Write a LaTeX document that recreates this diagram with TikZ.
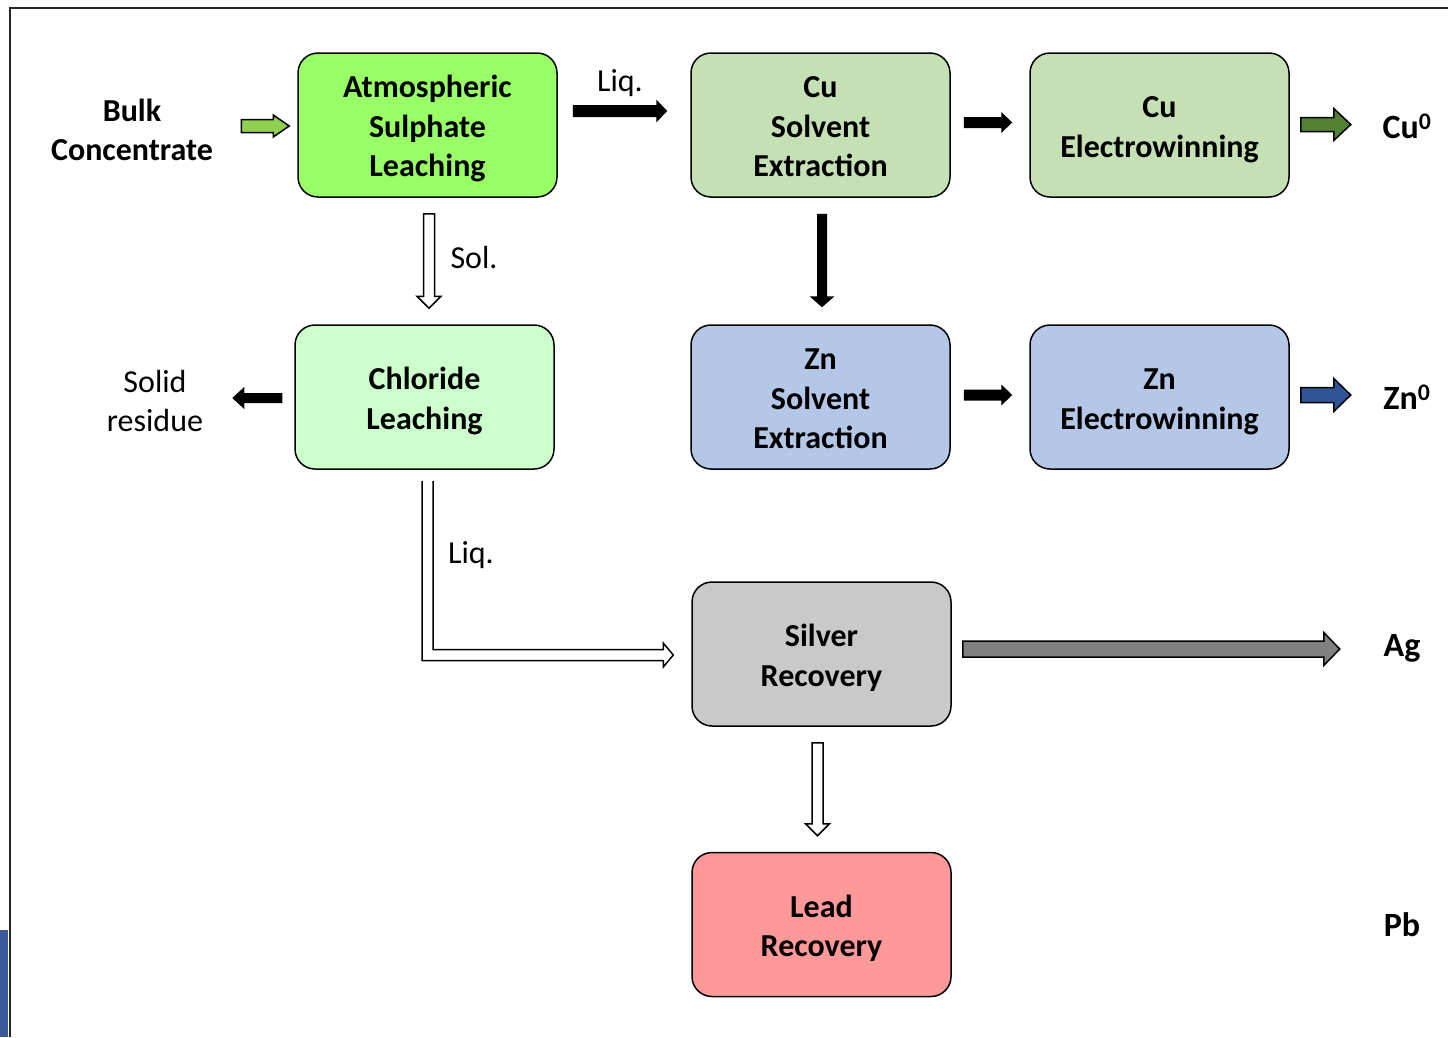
\documentclass[tikz,border=0pt]{standalone}
\usepackage{fontspec}
\setmainfont{Carlito}
\usetikzlibrary{calc}
\definecolor{aslgreen}{RGB}{153,255,102}
\definecolor{sxgreen}{RGB}{197,224,180}
\definecolor{clgreen}{RGB}{204,255,204}
\definecolor{znblue}{RGB}{180,199,231}
\definecolor{aggray}{RGB}{201,201,201}
\definecolor{pbred}{RGB}{255,153,153}
\definecolor{inarrow}{RGB}{146,208,80}
\definecolor{cuarrow}{RGB}{84,130,53}
\definecolor{znarrow}{RGB}{47,85,151}
\definecolor{agarrow}{RGB}{128,128,128}
\definecolor{barblue}{RGB}{59,89,152}
\newcommand\ts{\rule{0pt}{32.5pt}}
\newcommand\bs{\rule[-8pt]{0pt}{0pt}}
\newcommand\blockarrow[6]{%
  \coordinate (baS) at #1;
  \coordinate (baE) at #2;
  \coordinate (baH) at ($(baE)!#5!(baS)$);
  \draw[#6] ($(baS)!#3!90:(baE)$) -- ($(baH)!#3!90:(baE)$) -- ($(baH)!#4!90:(baE)$) -- (baE)
    -- ($(baH)!#4!-90:(baE)$) -- ($(baH)!#3!-90:(baE)$) -- ($(baS)!#3!-90:(baE)$) -- cycle;
}
\tikzset{
  box/.style={draw=black, line width=1.5pt, rounded corners=20pt, minimum width=259pt,
    minimum height=144pt, align=center, inner sep=0pt, font=\bfseries\fontsize{32}{39.5}\selectfont, text=black},
  txt/.style={font=\fontsize{32}{39}\selectfont, align=center, inner sep=0pt},
  btxt/.style={font=\bfseries\fontsize{32}{39}\selectfont, align=center, inner sep=0pt},
  otxt/.style={font=\bfseries\fontsize{34}{40}\selectfont, align=center, inner sep=0pt},
  solidarrow/.style={fill=black, draw=none},
  hollowarrow/.style={draw=black, line width=1.5pt, fill=white, line join=miter},
  colarrow/.style={draw=black, line width=1.5pt, fill=#1, line join=miter}
}
\begin{document}
\begin{tikzpicture}[x=1pt,y=-1pt]
\useasboundingbox (0,0) rectangle (1448,1037);
% frame
\draw[line width=1.5pt, black!85] (10,1037) -- (10,8) -- (1448,8);
\fill[barblue] (0,930) rectangle (8,1037);
% boxes
\node[box, fill=aslgreen] (asl) at (427.5,125) {\ts Atmospheric\\Sulphate\\Leaching\bs};
\node[box, fill=sxgreen] (cusx) at (820.5,125) {\ts Cu\\Solvent\\Extraction\bs};
\node[box, fill=sxgreen] (cuew) at (1159.5,125) {\ts Cu\\Electrowinning\bs};
\node[box, fill=clgreen] (cl) at (424.5,397) {\ts Chloride\\Leaching\bs};
\node[box, fill=znblue] (znsx) at (820.5,397) {\ts Zn\\Solvent\\Extraction\bs};
\node[box, fill=znblue] (znew) at (1159.5,397) {\ts Zn\\Electrowinning\bs};
\node[box, fill=aggray] (ag) at (821.5,654) {\ts Silver\\Recovery\bs};
\node[box, fill=pbred] (pb) at (821.5,924.5) {\ts Lead\\Recovery\bs};
% outside labels
\node[btxt] (bulk) at (132,130) {Bulk\\Concentrate};
\node[txt] (solid) at (155,401) {Solid\\residue};
\node[otxt] (cu0) at (1407,126) {Cu\textsuperscript{0}};
\node[otxt] (zn0) at (1407,397) {Zn\textsuperscript{0}};
\node[otxt] (agout) at (1402,648) {Ag};
\node[otxt] (pbout) at (1402,925) {Pb};
\node[txt] (liq1) at (620,83) {Liq.};
\node[txt] (sol) at (474,258) {Sol.};
\node[txt] (liq2) at (471,555) {Liq.};
% arrows
\blockarrow{($(asl.west)+(-56,1)$)}{($(asl.west)+(-8,1)$)}{6.5pt}{11pt}{16pt}{colarrow=inarrow}
\blockarrow{($(asl.east)+(15,-14)$)}{($(cusx.west)+(-23,-14)$)}{6pt}{11.5pt}{11pt}{solidarrow}
\blockarrow{($(cusx.east)+(13,-2.5)$)}{($(cuew.west)+(-17,-2.5)$)}{5.5pt}{10.5pt}{11pt}{solidarrow}
\blockarrow{($(cusx.south)+(1.5,16)$)}{($(znsx.north)+(1.5,-17)$)}{5pt}{12.5pt}{11pt}{solidarrow}
\blockarrow{($(znsx.east)+(13,-2)$)}{($(znew.west)+(-17,-2)$)}{5.5pt}{10.5pt}{11pt}{solidarrow}
\blockarrow{($(cl.west)+(-12,1)$)}{($(cl.west)+(-62,1)$)}{5pt}{11pt}{12pt}{solidarrow}
\blockarrow{($(asl.south)+(1.5,16)$)}{($(cl.north)+(4.5,-16)$)}{5.5pt}{12pt}{12pt}{hollowarrow}
\blockarrow{($(ag.south)+(-4,16)$)}{($(pb.north)+(-4,-16)$)}{5.5pt}{12pt}{12pt}{hollowarrow}
\blockarrow{($(ag.east)+(11,-5)$)}{($(ag.east)+(388,-5)$)}{8pt}{16.5pt}{16pt}{colarrow=agarrow}
\blockarrow{($(cuew.east)+(11,-0.5)$)}{($(cuew.east)+(61,-0.5)$)}{7pt}{16pt}{17pt}{colarrow=cuarrow}
\blockarrow{($(znew.east)+(11,-2)$)}{($(znew.east)+(61,-2)$)}{7.5pt}{16.5pt}{17pt}{colarrow=znarrow}
% L-shaped hollow arrow
\coordinate (lA) at ($(cl.south)+(3,11)$);
\coordinate (lB) at ($(ag.west)+(-18,1)$);
\draw[hollowarrow] ($(lA)+(-5.5,0)$) -- ($(lA |- lB)+(-5.5,5.5)$) -- ($(lB)+(-10,5.5)$) -- ($(lB)+(-10,12)$) -- (lB)
  -- ($(lB)+(-10,-12)$) -- ($(lB)+(-10,-5.5)$) -- ($(lA |- lB)+(5.5,-5.5)$) -- ($(lA)+(5.5,0)$);
\end{tikzpicture}
\end{document}
